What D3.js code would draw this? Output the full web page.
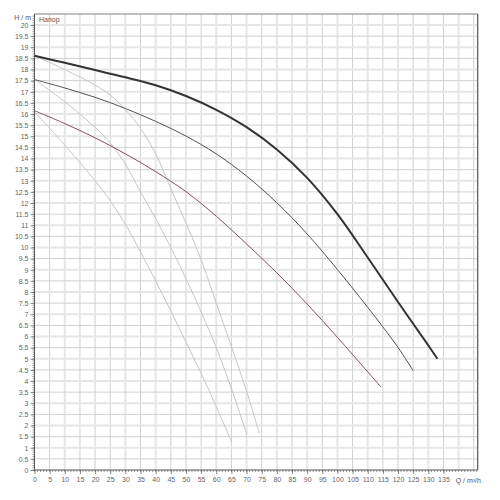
<!DOCTYPE html>
<html><head><meta charset="utf-8">
<script src="https://cdn.jsdelivr.net/npm/d3@7"></script>
<style>html,body{margin:0;padding:0;background:#fff}svg{display:block}</style>
</head><body>
<svg id="c" width="500" height="500"></svg>
<script>
// ---- data ----
const xTickValues = [0,5,10,15,20,25,30,35,40,45,50,55,60,65,70,75,80,85,90,95,100,105,110,115,120,125,130,135];
const yTickValues = [0,0.5,1,1.5,2,2.5,3,3.5,4,4.5,5,5.5,6,6.5,7,7.5,8,8.5,9,9.5,10,10.5,11,11.5,12,12.5,13,13.5,14,14.5,15,15.5,16,16.5,17,17.5,18,18.5,19,19.5,20];
const xLabel = "Q / m³/h";
const yLabel = "H / m";
const titleText = "Напор";

// pump curves (Q m3/h, H m)
const curve1Q = [0,10,20,30,40,50,60,70,80,90,100,110,120,130,133];
const curve1H = [18.62,18.30,17.98,17.65,17.29,16.81,16.19,15.41,14.41,13.13,11.5,9.55,7.55,5.6,5.0];
const curve2Q = [0,10,20,30,40,50,60,70,80,90,100,110,120,125];
const curve2H = [17.55,17.17,16.75,16.25,15.67,15.01,14.21,13.21,12.01,10.61,9.01,7.31,5.51,4.46];
const curve3Q = [0,10,20,30,40,50,60,70,80,90,100,110,114.3];
const curve3H = [16.15,15.57,14.93,14.21,13.41,12.51,11.41,10.16,8.86,7.46,5.96,4.41,3.74];
const grayAQ = [0,10,20,25,30,35,40,45,50,55,60,65,70,74.2];
const grayAH = [18.62,18.0,17.3,16.85,16.2,15.35,14.2,12.65,11.1,9.45,7.5,5.55,3.55,1.65];
const grayBQ = [0,10,20,25,30,35,40,45,50,55,60,65,70.1];
const grayBH = [17.55,16.55,15.4,14.7,13.75,12.5,11.3,10.0,8.6,7.1,5.5,3.65,1.6];
const grayCQ = [0,10,20,25,30,35,40,45,50,55,60,65.1];
const grayCH = [16.1,14.6,13.0,12.1,11.05,9.8,8.5,7.15,5.75,4.35,2.85,1.25];

// ---- drawing ----
const svg = d3.select("#c");
const x = d3.scaleLinear().domain([0,146.3]).range([34.5,477.7]);
const y = d3.scaleLinear().domain([0,20.5]).range([470,13.9]);
const font = "'Liberation Sans', Arial, sans-serif";

// grid
const gGrid = svg.append("g");
const vLines = xTickValues.filter(v => v > 0).concat([140,145]);
gGrid.selectAll("line.v").data(vLines).join("line")
  .attr("x1", d => x(d)).attr("x2", d => x(d))
  .attr("y1", y(20.5)).attr("y2", y(0))
  .attr("stroke", d => d % 10 === 0 ? "#e6e6e6" : "#d0d0d0")
  .attr("stroke-width", d => d % 10 === 0 ? 2 : 1);
gGrid.selectAll("line.h").data(yTickValues.filter(v => v > 0)).join("line")
  .attr("x1", x(0)).attr("x2", x(146.3))
  .attr("y1", d => y(d)).attr("y2", d => y(d))
  .attr("stroke", d => Number.isInteger(d) ? "#e6e6e6" : "#d0d0d0")
  .attr("stroke-width", d => Number.isInteger(d) ? 2 : 1);

// borders
svg.append("line").attr("x1", x(0)).attr("x2", x(146.3)).attr("y1", y(20.5)).attr("y2", y(20.5))
  .attr("stroke", "#aaa").attr("stroke-width", 1.5);
svg.append("line").attr("x1", x(146.3)).attr("x2", x(146.3)).attr("y1", y(20.5)).attr("y2", y(0))
  .attr("stroke", "#555").attr("stroke-width", 1.2);

// curves
const line = d3.line().x(d => x(d[0])).y(d => y(d[1])).curve(d3.curveCatmullRom.alpha(0.5));
const zip = (q, h) => q.map((v, i) => [v, h[i]]);
const gray = [[grayAQ,grayAH],[grayBQ,grayBH],[grayCQ,grayCH]];
gray.forEach(([q,h]) => {
  svg.append("path").attr("d", line(zip(q,h))).attr("fill","none")
    .attr("stroke","#c6c6c6").attr("stroke-width",1);
});
svg.append("path").attr("d", line(zip(curve3Q,curve3H))).attr("fill","none")
  .attr("stroke","#7d5068").attr("stroke-width",1);
svg.append("path").attr("d", line(zip(curve2Q,curve2H))).attr("fill","none")
  .attr("stroke","#55505a").attr("stroke-width",1);
svg.append("path").attr("d", line(zip(curve1Q,curve1H))).attr("fill","none")
  .attr("stroke","#333").attr("stroke-width",2);

// y axis
const yAxis = d3.axisLeft(y).tickValues(yTickValues).tickSize(4).tickPadding(2)
  .tickFormat(d => d3.format("~g")(d));
const gy = svg.append("g").attr("transform", `translate(${x(0)},0)`).call(yAxis);
const yMinor = d3.range(0, 205).map(i => i / 10);
gy.selectAll("line.minor").data(yMinor).join("line").attr("class","minor")
  .attr("x1", -2).attr("x2", 0).attr("y1", d => y(d)).attr("y2", d => y(d))
  .attr("stroke", "#555").attr("stroke-width", 0.6);
gy.select(".domain").attr("stroke","#555").attr("d", `M0,${y(20.5)}V${y(0)}`);

// x axis
const xAxis = d3.axisBottom(x).tickValues(xTickValues).tickSize(4).tickPadding(3)
  .tickFormat(d => String(d));
const gx = svg.append("g").attr("transform", `translate(0,${y(0)})`).call(xAxis);
const xMinor = d3.range(0, 147);
gx.selectAll("line.minor").data(xMinor).join("line").attr("class","minor")
  .attr("x1", d => x(d)).attr("x2", d => x(d)).attr("y1", 0).attr("y2", 2)
  .attr("stroke", "#555").attr("stroke-width", 0.6);
gx.select(".domain").attr("stroke","#555").attr("d", `M${x(0)},0H${x(146.3)}`);

[gx, gy].forEach(g => {
  g.selectAll(".tick line").attr("stroke","#555").attr("stroke-width",0.7);
  g.selectAll("text").attr("font-family", font).attr("font-size", 7).attr("fill", "#666");
});

// labels
svg.append("text").attr("x", 31).attr("y", 20).attr("text-anchor","end")
  .attr("font-family", font).attr("font-size", 7).attr("fill","#555")
  .text(yLabel);
svg.append("text").attr("x", x(143.2)).attr("y", y(0) + 13).attr("text-anchor","middle")
  .attr("font-family", font).attr("font-size", 7).attr("fill","#555")
  .text(xLabel);
svg.append("text").attr("x", 39).attr("y", 22)
  .attr("font-family", font).attr("font-size", 7).attr("fill","#555")
  .text(titleText);
</script>
</body></html>
